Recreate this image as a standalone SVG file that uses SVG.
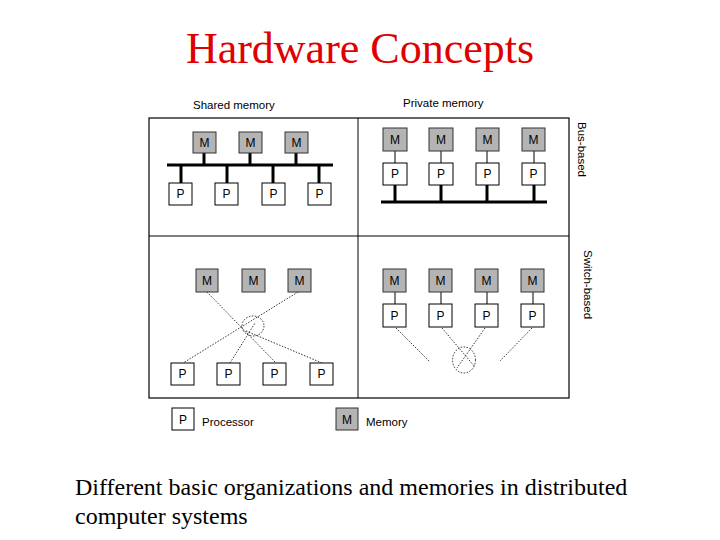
<svg xmlns="http://www.w3.org/2000/svg" width="720" height="540" viewBox="0 0 720 540">
<style>
.t{font-family:"Liberation Sans",Arial,sans-serif;font-size:11.5px;fill:#000}
.bt{font-family:"Liberation Sans",Arial,sans-serif;font-size:12px;fill:#000;text-anchor:middle}
.m{fill:#b4b4b4;stroke:#333;stroke-width:1}
.p{fill:#fff;stroke:#000;stroke-width:1}
.bus{stroke:#000;stroke-width:3;fill:none}
.thin{stroke:#000;stroke-width:1;fill:none}
.dot{stroke:#000;stroke-width:0.8;stroke-dasharray:1.5 1.5;fill:none}
.frame{stroke:#000;stroke-width:1.2;fill:#fff}
</style>
<rect width="720" height="540" fill="#fff"/>
<text x="360" y="63" text-anchor="middle" font-family="Liberation Serif,'Times New Roman',serif" font-size="44" fill="#e00000">Hardware Concepts</text>
<g id="frame">
<rect class="frame" x="149" y="118" width="420" height="280"/>
<line class="thin" x1="358" y1="118" x2="358" y2="398" stroke-width="1.2"/>
<line class="thin" x1="149" y1="236" x2="569" y2="236" stroke-width="1.2"/>
</g>
<g id="labels">
<text class="t" x="193" y="109">Shared memory</text>
<text class="t" x="403" y="107">Private memory</text>
<text class="t" transform="translate(578,122) rotate(90)" font-size="12.5">Bus-based</text>
<text class="t" transform="translate(584,250) rotate(90)">Switch-based</text>
</g>
<g id="connectors">
<line class="bus" x1="167" y1="165" x2="333" y2="165"/>
<line class="bus" x1="204" y1="153" x2="204" y2="165"/>
<line class="bus" x1="250" y1="153" x2="250" y2="165"/>
<line class="bus" x1="296" y1="153" x2="296" y2="165"/>
<line class="bus" x1="181" y1="165" x2="181" y2="183"/>
<line class="bus" x1="227" y1="165" x2="227" y2="183"/>
<line class="bus" x1="273" y1="165" x2="273" y2="183"/>
<line class="bus" x1="319" y1="165" x2="319" y2="183"/>
<line class="bus" x1="381" y1="202" x2="547" y2="202"/>
<line class="bus" x1="395" y1="185" x2="395" y2="202"/>
<line class="bus" x1="441" y1="185" x2="441" y2="202"/>
<line class="bus" x1="487" y1="185" x2="487" y2="202"/>
<line class="bus" x1="534" y1="185" x2="534" y2="202"/>
<line class="thin" x1="395" y1="151" x2="395" y2="163"/>
<line class="thin" x1="441" y1="151" x2="441" y2="163"/>
<line class="thin" x1="487" y1="151" x2="487" y2="163"/>
<line class="thin" x1="534" y1="151" x2="534" y2="163"/>
<line class="thin" x1="395" y1="292" x2="395" y2="304"/>
<line class="thin" x1="441" y1="292" x2="441" y2="304"/>
<line class="thin" x1="487" y1="292" x2="487" y2="304"/>
<line class="thin" x1="533" y1="292" x2="533" y2="304"/>
<line class="dot" x1="207" y1="292" x2="276" y2="363"/>
<line class="dot" x1="298" y1="292" x2="183" y2="363"/>
<line class="dot" x1="230" y1="363" x2="255" y2="323"/>
<line class="dot" x1="322" y1="363" x2="246" y2="331"/>
<ellipse class="dot" cx="253" cy="326" rx="11" ry="10"/>
<line class="dot" x1="396" y1="328" x2="430" y2="362"/>
<line class="dot" x1="442" y1="328" x2="475" y2="367"/>
<line class="dot" x1="485" y1="328" x2="457" y2="368"/>
<line class="dot" x1="532" y1="328" x2="500" y2="361"/>
<ellipse class="dot" cx="464" cy="360" rx="11.5" ry="13"/>
</g>
<g id="shared-bus-M1"><rect class="m" x="193" y="132" width="23" height="21"/><text class="bt" x="204.5" y="147">M</text></g>
<g id="shared-bus-M2"><rect class="m" x="239" y="132" width="23" height="21"/><text class="bt" x="250.5" y="147">M</text></g>
<g id="shared-bus-M3"><rect class="m" x="285" y="132" width="23" height="21"/><text class="bt" x="296.5" y="147">M</text></g>
<g id="shared-bus-P1"><rect class="p" x="169" y="183" width="23" height="22"/><text class="bt" x="180.5" y="198">P</text></g>
<g id="shared-bus-P2"><rect class="p" x="215" y="183" width="23" height="22"/><text class="bt" x="226.5" y="198">P</text></g>
<g id="shared-bus-P3"><rect class="p" x="262" y="183" width="23" height="22"/><text class="bt" x="273.5" y="198">P</text></g>
<g id="shared-bus-P4"><rect class="p" x="308" y="183" width="23" height="22"/><text class="bt" x="319.5" y="198">P</text></g>
<g id="private-bus-M1"><rect class="m" x="383" y="128" width="24" height="23"/><text class="bt" x="395" y="144">M</text></g>
<g id="private-bus-M2"><rect class="m" x="429" y="128" width="24" height="23"/><text class="bt" x="441" y="144">M</text></g>
<g id="private-bus-M3"><rect class="m" x="476" y="128" width="23" height="23"/><text class="bt" x="487.5" y="144">M</text></g>
<g id="private-bus-M4"><rect class="m" x="522" y="128" width="23" height="23"/><text class="bt" x="533.5" y="144">M</text></g>
<g id="private-bus-P1"><rect class="p" x="383" y="163" width="24" height="22"/><text class="bt" x="395" y="178">P</text></g>
<g id="private-bus-P2"><rect class="p" x="429" y="163" width="24" height="22"/><text class="bt" x="441" y="178">P</text></g>
<g id="private-bus-P3"><rect class="p" x="476" y="163" width="23" height="22"/><text class="bt" x="487.5" y="178">P</text></g>
<g id="private-bus-P4"><rect class="p" x="522" y="163" width="23" height="22"/><text class="bt" x="533.5" y="178">P</text></g>
<g id="shared-sw-M1"><rect class="m" x="196" y="269" width="22" height="23"/><text class="bt" x="207" y="285">M</text></g>
<g id="shared-sw-M2"><rect class="m" x="242" y="269" width="23" height="23"/><text class="bt" x="253.5" y="285">M</text></g>
<g id="shared-sw-M3"><rect class="m" x="288" y="269" width="23" height="23"/><text class="bt" x="299.5" y="285">M</text></g>
<g id="shared-sw-P1"><rect class="p" x="171" y="363" width="23" height="22"/><text class="bt" x="182.5" y="378">P</text></g>
<g id="shared-sw-P2"><rect class="p" x="217" y="363" width="23" height="22"/><text class="bt" x="228.5" y="378">P</text></g>
<g id="shared-sw-P3"><rect class="p" x="263" y="363" width="23" height="22"/><text class="bt" x="274.5" y="378">P</text></g>
<g id="shared-sw-P4"><rect class="p" x="310" y="363" width="23" height="22"/><text class="bt" x="321.5" y="378">P</text></g>
<g id="private-sw-M1"><rect class="m" x="383" y="269" width="23" height="23"/><text class="bt" x="394.5" y="285">M</text></g>
<g id="private-sw-M2"><rect class="m" x="429" y="269" width="23" height="23"/><text class="bt" x="440.5" y="285">M</text></g>
<g id="private-sw-M3"><rect class="m" x="475" y="269" width="23" height="23"/><text class="bt" x="486.5" y="285">M</text></g>
<g id="private-sw-M4"><rect class="m" x="521" y="269" width="23" height="23"/><text class="bt" x="532.5" y="285">M</text></g>
<g id="private-sw-P1"><rect class="p" x="383" y="304" width="23" height="23"/><text class="bt" x="394.5" y="320">P</text></g>
<g id="private-sw-P2"><rect class="p" x="429" y="304" width="23" height="23"/><text class="bt" x="440.5" y="320">P</text></g>
<g id="private-sw-P3"><rect class="p" x="475" y="304" width="23" height="23"/><text class="bt" x="486.5" y="320">P</text></g>
<g id="private-sw-P4"><rect class="p" x="521" y="304" width="23" height="23"/><text class="bt" x="532.5" y="320">P</text></g>
<g id="legend-P"><rect class="p" x="172" y="408" width="22" height="22"/><text class="bt" x="183" y="424">P</text><text class="t" x="202" y="426">Processor</text></g>
<g id="legend-M"><rect class="m" x="336" y="408" width="22" height="22" stroke="none"/><text class="bt" x="347" y="424">M</text><text class="t" x="366" y="426">Memory</text></g>
<g id="caption" font-family="Liberation Serif,'Times New Roman',serif" font-size="24" fill="#000">
<text x="75" y="495">Different basic organizations and memories in distributed</text>
<text x="75" y="524">computer systems</text>
</g>
</svg>
